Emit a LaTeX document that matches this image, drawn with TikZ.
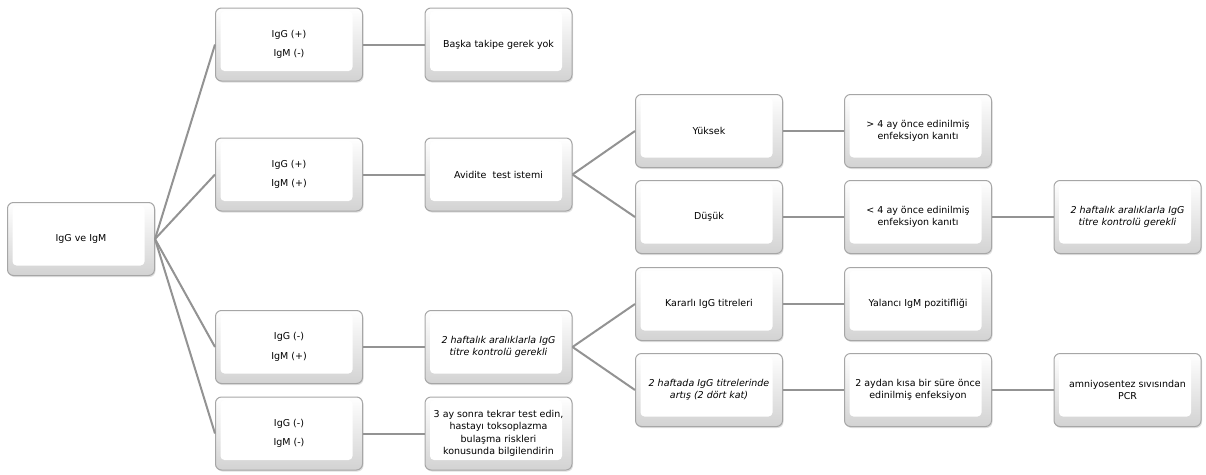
\documentclass[tikz,border=0pt]{standalone}
\usepackage{fontspec}
\setmainfont{DejaVu Sans}
\usetikzlibrary{shadows}
\begin{document}
\begin{tikzpicture}[x=1pt,y=-1pt,
  box/.style={draw=gray!70, line width=1pt, rounded corners=6pt,
    top color=white, bottom color=gray!35,
    minimum width=147pt, minimum height=73pt, align=center,
    font=\fontsize{9.5}{12.5}\selectfont, text=black,
    drop shadow={opacity=0.25, shadow xshift=1pt, shadow yshift=-1.5pt},
    path picture={\fill[white, rounded corners=4pt]
      ([xshift=5pt,yshift=-3pt]path picture bounding box.north west) rectangle
      ([xshift=-10pt,yshift=10pt]path picture bounding box.south east);}},
  link/.style={draw=gray!85, line width=2pt}]
\useasboundingbox (0,0) rectangle (1206,474);
% level 0
\node[box] (root) at (81,239) {IgG ve IgM};
% level 1
\node[box] (a1) at (289,44.5) {IgG (+)\\[7pt]IgM (-)};
\node[box] (b1) at (289,174.5) {IgG (+)\\[7pt]IgM (+)};
\node[box] (c1) at (289,347) {IgG (-)\\[7pt]IgM (+)};
\node[box] (d1) at (289,433.5) {IgG (-)\\[7pt]IgM (-)};
% level 2
\node[box] (a2) at (498.5,44.5) {Başka takipe gerek yok};
\node[box] (b2) at (498.5,174.5) {Avidite\ \ test istemi};
\node[box] (c2) at (498.5,347) {\itshape 2 haftalık aralıklarla IgG\\\itshape titre kontrolü gerekli};
\node[box] (d2) at (498.5,433.5) {3 ay sonra tekrar test edin,\\hastayı toksoplazma\\bulaşma riskleri\\konusunda bilgilendirin};
% level 3
\node[box] (b3a) at (709,131) {Yüksek};
\node[box] (b3b) at (709,217) {Düşük};
\node[box] (c3a) at (709,304) {Kararlı IgG titreleri};
\node[box] (c3b) at (709,390) {\itshape 2 haftada IgG titrelerinde\\\itshape artış (2 dört kat)};
% level 4
\node[box] (b4a) at (918,131) {> 4 ay önce edinilmiş\\enfeksiyon kanıtı};
\node[box] (b4b) at (918,217) {< 4 ay önce edinilmiş\\enfeksiyon kanıtı};
\node[box] (c4a) at (918,304) {Yalancı IgM pozitifliği};
\node[box] (c4b) at (918,390) {2 aydan kısa bir süre önce\\edinilmiş enfeksiyon};
% level 5
\node[box] (b5) at (1127.5,217) {\itshape 2 haftalık aralıklarla IgG\\\itshape titre kontrolü gerekli};
\node[box] (c5) at (1127.5,390) {amniyosentez sıvısından\\PCR};
% connectors
\draw[link] (root.east) -- (a1.west);
\draw[link] (root.east) -- (b1.west);
\draw[link] (root.east) -- (c1.west);
\draw[link] (root.east) -- (d1.west);
\draw[link] (a1.east) -- (a2.west);
\draw[link] (b1.east) -- (b2.west);
\draw[link] (c1.east) -- (c2.west);
\draw[link] (d1.east) -- (d2.west);
\draw[link] (b2.east) -- (b3a.west);
\draw[link] (b2.east) -- (b3b.west);
\draw[link] (c2.east) -- (c3a.west);
\draw[link] (c2.east) -- (c3b.west);
\draw[link] (b3a.east) -- (b4a.west);
\draw[link] (b3b.east) -- (b4b.west);
\draw[link] (c3a.east) -- (c4a.west);
\draw[link] (c3b.east) -- (c4b.west);
\draw[link] (b4b.east) -- (b5.west);
\draw[link] (c4b.east) -- (c5.west);
\end{tikzpicture}
\end{document}
